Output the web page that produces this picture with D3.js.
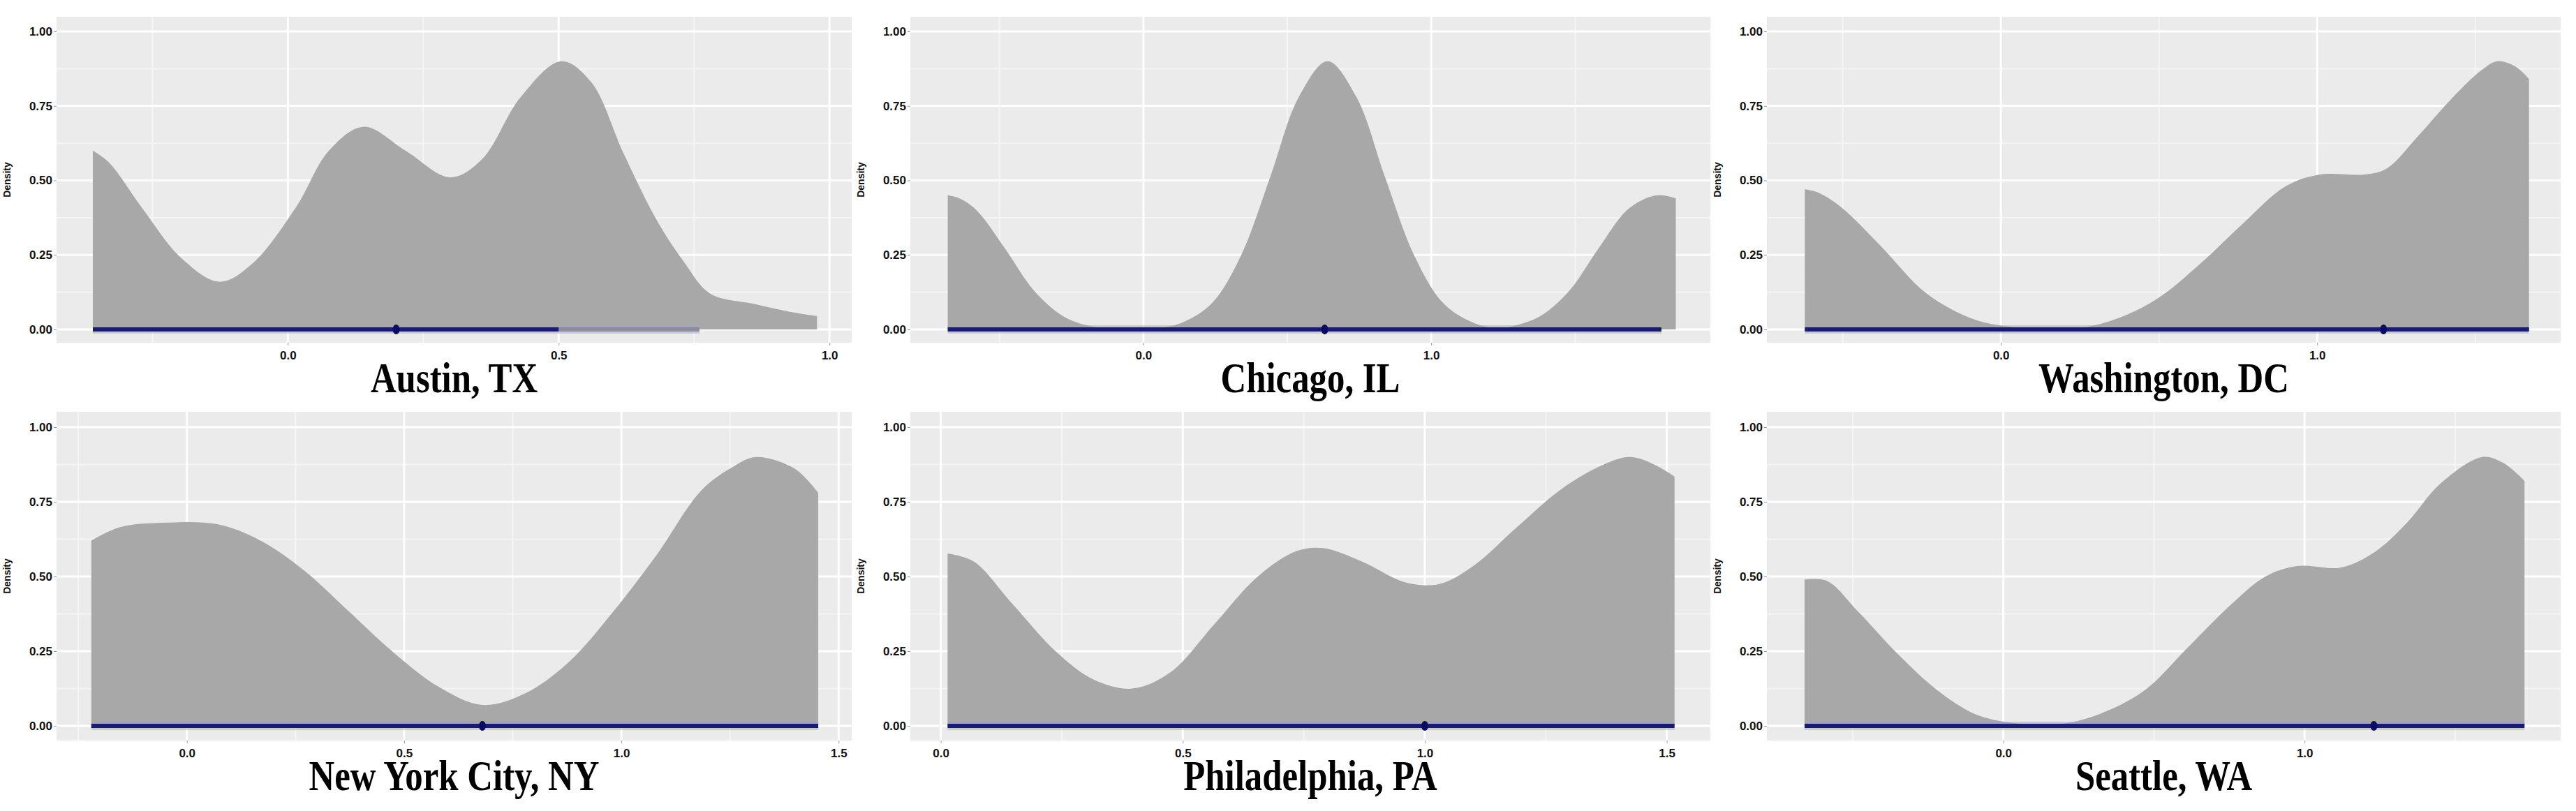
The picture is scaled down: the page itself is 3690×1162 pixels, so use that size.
<!DOCTYPE html>
<html><head><meta charset="utf-8">
<script src="https://cdn.jsdelivr.net/npm/d3@7"></script>
<style>body{margin:0;background:#fff}</style>
</head><body>
<svg id="c" width="3690" height="1162"></svg>
<script>
const cities = ["Austin, TX","Chicago, IL","Washington, DC","New York City, NY","Philadelphia, PA","Seattle, WA"];
const xTicks = [[0,0.5,1.0],[0,1.0],[0,1.0],[0,0.5,1.0,1.5],[0,0.5,1.0,1.5],[0,1.0]];
const xTickLabels = [["0.0","0.5","1.0"],["0.0","1.0"],["0.0","1.0"],["0.0","0.5","1.0","1.5"],["0.0","0.5","1.0","1.5"],["0.0","1.0"]];
const xMinor = [[-0.25,0.25,0.75],[-0.5,0.5,1.5],[-0.5,0.5,1.5],[-0.25,0.25,0.75,1.25],[0.25,0.75,1.25],[-0.5,0.5,1.5]];
const yTicks = [0,0.25,0.5,0.75,1.0];
const yTickLabels = ["0.00","0.25","0.50","0.75","1.00"];
const xDomains = [[-0.427,1.041],[-0.81,1.97],[-0.74,1.77],[-0.30,1.53],[-0.063,1.59],[-0.785,1.85]];

const austinX = [-0.36,-0.33,-0.27,-0.197,-0.126,-0.066,0.015,0.076,0.14,0.217,0.30,0.358,0.43,0.505,0.56,0.62,0.68,0.73,0.78,0.863,0.925,0.977];
const austinY = [0.60,0.56,0.41,0.24,0.16,0.22,0.41,0.60,0.68,0.60,0.51,0.57,0.78,0.90,0.83,0.59,0.37,0.23,0.12,0.085,0.06,0.045];
const chicagoX = [-0.68,-0.64,-0.58,-0.48,-0.38,-0.28,-0.18,-0.05,0.05,0.14,0.24,0.34,0.44,0.54,0.64,0.74,0.84,0.94,1.04,1.14,1.23,1.28,1.38,1.48,1.58,1.68,1.76,1.80,1.85];
const chicagoY = [0.45,0.44,0.40,0.27,0.13,0.045,0.01,0,0.003,0.025,0.09,0.25,0.51,0.78,0.90,0.78,0.51,0.25,0.09,0.025,0.003,0.01,0.045,0.13,0.27,0.40,0.445,0.45,0.44];
const washX = [-0.62,-0.58,-0.505,-0.38,-0.24,-0.10,0.02,0.21,0.35,0.49,0.63,0.76,0.90,1.01,1.15,1.22,1.32,1.43,1.52,1.57,1.63,1.67];
const washY = [0.47,0.46,0.41,0.28,0.125,0.04,0.01,0.0,0.03,0.10,0.22,0.35,0.48,0.52,0.52,0.54,0.65,0.78,0.87,0.90,0.88,0.84];
const nycX = [-0.22,-0.155,-0.055,0.07,0.17,0.27,0.375,0.48,0.58,0.68,0.78,0.88,0.98,1.08,1.185,1.26,1.31,1.40,1.453];
const nycY = [0.62,0.665,0.68,0.675,0.62,0.52,0.38,0.24,0.13,0.07,0.11,0.215,0.38,0.57,0.79,0.87,0.90,0.86,0.78];
const phlX = [0.014,0.068,0.147,0.237,0.316,0.395,0.475,0.565,0.655,0.735,0.79,0.87,0.96,1.03,1.10,1.19,1.28,1.37,1.425,1.48,1.516];
const phlY = [0.577,0.55,0.41,0.25,0.155,0.125,0.18,0.34,0.50,0.585,0.595,0.55,0.48,0.475,0.535,0.665,0.79,0.875,0.90,0.87,0.835];
const seaX = [-0.66,-0.585,-0.48,-0.35,-0.22,-0.095,0.03,0.18,0.32,0.47,0.61,0.76,0.87,0.975,1.12,1.23,1.34,1.45,1.59,1.66,1.73];
const seaY = [0.49,0.485,0.38,0.24,0.12,0.04,0.01,0.005,0.04,0.12,0.26,0.41,0.50,0.535,0.53,0.58,0.68,0.81,0.90,0.88,0.82];
const densX = [austinX,chicagoX,washX,nycX,phlX,seaX];
const densY = [austinY,chicagoY,washY,nycY,phlY,seaY];

const pointX = [0.2,0.63,1.21,0.68,1.0,1.23];
const ciLow = [-0.36,-0.68,-0.62,-0.22,0.014,-0.66];
const ciHigh = [0.5,1.80,1.67,1.453,1.516,1.73];
const ciExtHigh = [0.76,1.80,1.67,1.453,1.516,1.73];

const svg = d3.select("#c");
const colX = [[81,1220],[1304,2450],[2531,3668]];
const rowY = [{top:24,bot:491,y0:472,y1:45},{top:590,bot:1061,y0:1040,y1:612}];

cities.forEach((city,i)=>{
  const c = i%3, r = Math.floor(i/3);
  const [L,R] = colX[c]; const ry = rowY[r];
  const x = d3.scaleLinear().domain(xDomains[i]).range([L,R]);
  const y = d3.scaleLinear().domain([0,1]).range([ry.y0,ry.y1]);
  const g = svg.append("g");
  g.append("rect").attr("x",L).attr("y",ry.top).attr("width",R-L).attr("height",ry.bot-ry.top).attr("fill","#EBEBEB");
  [0.125,0.375,0.625,0.875].forEach(v=>g.append("line").attr("x1",L).attr("x2",R).attr("y1",y(v)).attr("y2",y(v)).attr("stroke","#F5F5F5").attr("stroke-width",2));
  xMinor[i].forEach(v=>g.append("line").attr("x1",x(v)).attr("x2",x(v)).attr("y1",ry.top).attr("y2",ry.bot).attr("stroke","#F5F5F5").attr("stroke-width",2));
  yTicks.forEach(v=>g.append("line").attr("x1",L).attr("x2",R).attr("y1",y(v)).attr("y2",y(v)).attr("stroke","#fff").attr("stroke-width",3));
  xTicks[i].forEach(v=>g.append("line").attr("x1",x(v)).attr("x2",x(v)).attr("y1",ry.top).attr("y2",ry.bot).attr("stroke","#fff").attr("stroke-width",3));
  const pts = densX[i].map((d,k)=>[d,densY[i][k]]);
  const area = d3.area().x(d=>x(d[0])).y0(y(0)).y1(d=>y(d[1])).curve(d3.curveCatmullRom.alpha(0.5));
  g.append("path").datum(pts).attr("d",area).attr("fill","#A8A8A8");
  g.append("line").attr("x1",x(ciLow[i])).attr("x2",x(ciExtHigh[i])).attr("y1",y(0)).attr("y2",y(0)).attr("stroke","#a0a4d0").attr("stroke-width",12).attr("opacity",0.5);
  if (ciExtHigh[i]>ciHigh[i]) g.append("line").attr("x1",x(ciHigh[i])).attr("x2",x(ciExtHigh[i])).attr("y1",y(0)).attr("y2",y(0)).attr("stroke","#8c8c9c").attr("stroke-width",6);
  g.append("line").attr("x1",x(ciLow[i])).attr("x2",x(ciHigh[i])).attr("y1",y(0)).attr("y2",y(0)).attr("stroke","#1c1c6e").attr("stroke-width",6);
  g.append("ellipse").attr("cx",x(pointX[i])).attr("cy",y(0)).attr("rx",5).attr("ry",7).attr("fill","#0a0a60");
  const ya = d3.axisLeft(y).tickValues(yTicks).tickFormat((d,k)=>yTickLabels[k]).tickSize(4).tickPadding(2);
  const yg = g.append("g").attr("transform",`translate(${L},0)`).call(ya);
  const xa = d3.axisBottom(x).tickValues(xTicks[i]).tickFormat((d,k)=>xTickLabels[i][k]).tickSize(4).tickPadding(8);
  const xg = g.append("g").attr("transform",`translate(0,${ry.bot})`).call(xa);
  [yg,xg].forEach(a=>{a.select(".domain").remove();a.selectAll("line").attr("stroke","#999");
    a.selectAll("text").attr("font-family","'Liberation Sans Narrow','Liberation Sans',sans-serif").attr("font-weight","bold").attr("font-size",17).attr("fill","#111");});
  g.append("text").attr("transform",`translate(${L-66},${(ry.top+ry.bot)/2}) rotate(-90)`).attr("text-anchor","middle")
    .attr("font-family","'Liberation Sans',sans-serif").attr("font-weight","bold").attr("font-size",14).attr("fill","#111").text("Density");
  const tx = (L+R)/2, ty = r===0?562:1132;
  g.append("text").attr("transform",`translate(${tx},${ty}) scale(0.82,1)`).attr("text-anchor","middle")
    .attr("font-family","'Liberation Serif','Times New Roman',serif").attr("font-weight","bold").attr("font-size",62).attr("fill","#000").text(city);
});
</script>
</body></html>
